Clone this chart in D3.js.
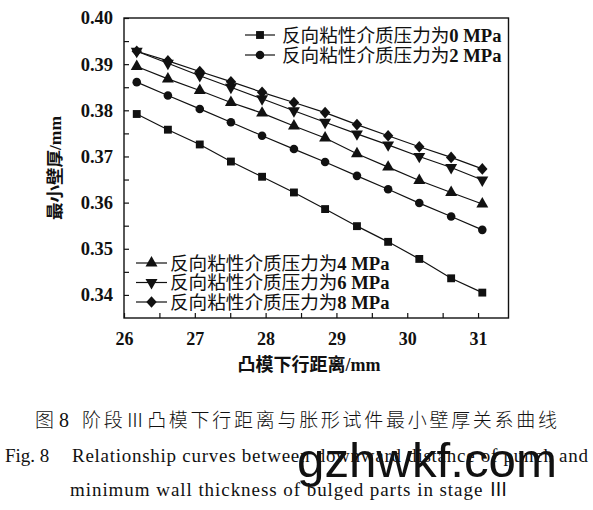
<!DOCTYPE html>
<html><head><meta charset="utf-8">
<script src="https://cdn.jsdelivr.net/npm/d3@7"></script>
<style>
html,body{margin:0;padding:0;background:#fff;}
svg{display:block;}
text{fill:#111;}
</style></head>
<body>
<svg id="c" width="593" height="510"></svg>
<script>
// ---- data ----
const xValues = [26.18, 26.62, 27.07, 27.51, 27.95, 28.40, 28.84, 29.29, 29.73, 30.17, 30.62, 31.06];
const p0MPa = [0.3792,0.3758,0.3726,0.3689,0.3656,0.3622,0.3586,0.3549,0.3515,0.3478,0.3436,0.3405];
const p2MPa = [0.3861,0.3832,0.3803,0.3774,0.3745,0.3716,0.3688,0.3658,0.3629,0.3599,0.3570,0.3541];
const p4MPa = [0.3895,0.3868,0.3843,0.3817,0.3794,0.3766,0.3740,0.3706,0.3677,0.3648,0.3622,0.3597];
const p6MPa = [0.3928,0.3902,0.3875,0.3850,0.3825,0.3799,0.3774,0.3749,0.3725,0.3700,0.3676,0.3649];
const p8MPa = [0.3928,0.3907,0.3884,0.3862,0.3839,0.3817,0.3795,0.3769,0.3745,0.3721,0.3698,0.3673];
const seriesNames = ["反向粘性介质压力为", "反向粘性介质压力为", "反向粘性介质压力为", "反向粘性介质压力为", "反向粘性介质压力为"];
const seriesPressure = ["0 MPa", "2 MPa", "4 MPa", "6 MPa", "8 MPa"];
const xTickValues = [26, 26.5, 27, 27.5, 28, 28.5, 29, 29.5, 30, 30.5, 31];
const yTickValues = [0.34, 0.345, 0.35, 0.355, 0.36, 0.365, 0.37, 0.375, 0.38, 0.385, 0.39, 0.395, 0.40];
const xLabelCN = "凸模下行距离";
const yLabelCN = "最小壁厚";
const unitLabel = "/mm";
const captionCN1a = "图";
const captionCN1b = "8";
const captionCN2 = "阶段Ⅲ凸模下行距离与胀形试件最小壁厚关系曲线";
const captionEN1a = "Fig. 8";
const captionEN1b = "Relationship curves between downward distance of punch and";
const captionEN2 = "minimum wall thickness of bulged parts in stage Ⅲ";
const watermark = "gzhwkf.com";

const series = [p0MPa, p2MPa, p4MPa, p6MPa, p8MPa];

const svg = d3.select("#c");
const L = 124, R = 508.5, T = 18, B = 318;
const x = d3.scaleLinear().domain([26, 31.43]).range([L, R]);
const y = d3.scaleLinear().domain([0.335, 0.40]).range([B, T]);

const serif = "'Liberation Serif','Times New Roman','Noto Sans CJK SC',serif";
const cjk = "'Noto Sans CJK SC','Liberation Serif',sans-serif";

// axes
const xa = svg.append("g").attr("transform", `translate(0,${B})`)
  .call(d3.axisBottom(x).tickValues(xTickValues).tickSize(-5).tickPadding(14)
    .tickFormat(d => Number.isInteger(d) ? d3.format("d")(d) : ""));
const ya = svg.append("g").attr("transform", `translate(${L},0)`)
  .call(d3.axisLeft(y).tickValues(yTickValues).tickSize(-5).tickPadding(11)
    .tickFormat(d => Math.abs(Math.round(d*100) - d*100) < 1e-6 ? d3.format(".2f")(d) : ""));
[xa, ya].forEach(g => {
  g.select(".domain").remove();
  g.selectAll(".tick line").attr("stroke", "#111").attr("stroke-width", 1.2);
  g.selectAll(".tick text").attr("font-family", serif).attr("font-weight", "bold")
    .attr("font-size", 18).attr("fill", "#111");
});
ya.selectAll(".tick text").attr("font-size", 18.5);

// frame
svg.append("rect").attr("x", L).attr("y", T).attr("width", R - L).attr("height", B - T)
  .attr("fill", "none").attr("stroke", "#111").attr("stroke-width", 1.4);

// symbols
const tri = d3.symbol().type(d3.symbolTriangle).size(62)();
const shapes = [
  d3.symbol().type(d3.symbolSquare).size(62)(),
  d3.symbol().type(d3.symbolCircle).size(58)(),
  tri,
  tri,
  "M0,-5.8L5.2,0L0,5.8L-5.2,0Z"
];
const rot = [0, 0, 0, 180, 0];

const line = d3.line().x((d, i) => x(xValues[i])).y(d => y(d));
series.forEach((s, k) => {
  svg.append("path").datum(s).attr("d", line).attr("fill", "none")
    .attr("stroke", "#111").attr("stroke-width", 1.2);
  svg.selectAll(null).data(s).enter().append("path")
    .attr("d", shapes[k]).attr("fill", "#111")
    .attr("transform", (d, i) => `translate(${x(xValues[i])},${y(d)}) rotate(${rot[k]})`);
});

// legends
function legendItem(k, lx0, lx1, ly, tx) {
  svg.append("line").attr("x1", lx0).attr("x2", lx1).attr("y1", ly).attr("y2", ly)
    .attr("stroke", "#111").attr("stroke-width", 1.2);
  svg.append("path").attr("d", shapes[k]).attr("fill", "#111")
    .attr("transform", `translate(${(lx0 + lx1) / 2},${ly}) rotate(${rot[k]})`);
  const t = svg.append("text").attr("x", tx).attr("y", ly + 6.5).attr("font-size", 18.6);
  t.append("tspan").attr("font-family", cjk).text(seriesNames[k]);
  t.append("tspan").attr("font-family", serif).attr("font-weight", "bold").text(seriesPressure[k]);
}
legendItem(0, 245, 275, 35, 282);
legendItem(1, 245, 275, 55, 282);
legendItem(2, 136, 167, 263, 170);
legendItem(3, 136, 167, 282.5, 170);
legendItem(4, 136, 167, 302, 170);

// axis labels
const xl = svg.append("text").attr("x", 309).attr("y", 371).attr("text-anchor", "middle")
  .attr("font-size", 18).attr("font-weight", "bold");
xl.append("tspan").attr("font-family", cjk).text(xLabelCN);
xl.append("tspan").attr("font-family", serif).text(unitLabel);
const yl = svg.append("text").attr("transform", "translate(61,168) rotate(-90)").attr("text-anchor", "middle")
  .attr("font-size", 17.5).attr("font-weight", "bold");
yl.append("tspan").attr("font-family", cjk).text(yLabelCN);
yl.append("tspan").attr("font-family", serif).text(unitLabel);

// captions
svg.append("text").attr("x", 35).attr("y", 427).attr("font-size", 19).attr("font-family", cjk)
  .attr("font-weight", 300).text(captionCN1a);
svg.append("text").attr("x", 59).attr("y", 427).attr("font-size", 20).attr("font-family", serif)
  .text(captionCN1b);
svg.append("text").attr("x", 82).attr("y", 427).attr("font-size", 19).attr("font-family", cjk)
  .attr("font-weight", 300).attr("textLength", 475).attr("lengthAdjust", "spacing").text(captionCN2);
svg.append("text").attr("x", 5).attr("y", 462).attr("font-size", 19).attr("font-family", serif)
  .text(captionEN1a);
svg.append("text").attr("x", 72).attr("y", 462).attr("font-size", 19).attr("font-family", serif)
  .attr("textLength", 516).attr("lengthAdjust", "spacing").text(captionEN1b);
svg.append("text").attr("x", 70).attr("y", 496).attr("font-size", 19).attr("font-family", serif)
  .attr("textLength", 438).attr("lengthAdjust", "spacing").text(captionEN2);

// watermark
svg.append("text").attr("x", 297).attr("y", 477).attr("font-size", 48)
  .attr("font-family", "'Liberation Sans',Arial,sans-serif").attr("fill", "#000")
  .attr("textLength", 260).attr("lengthAdjust", "spacingAndGlyphs").text(watermark);
</script>
</body></html>
